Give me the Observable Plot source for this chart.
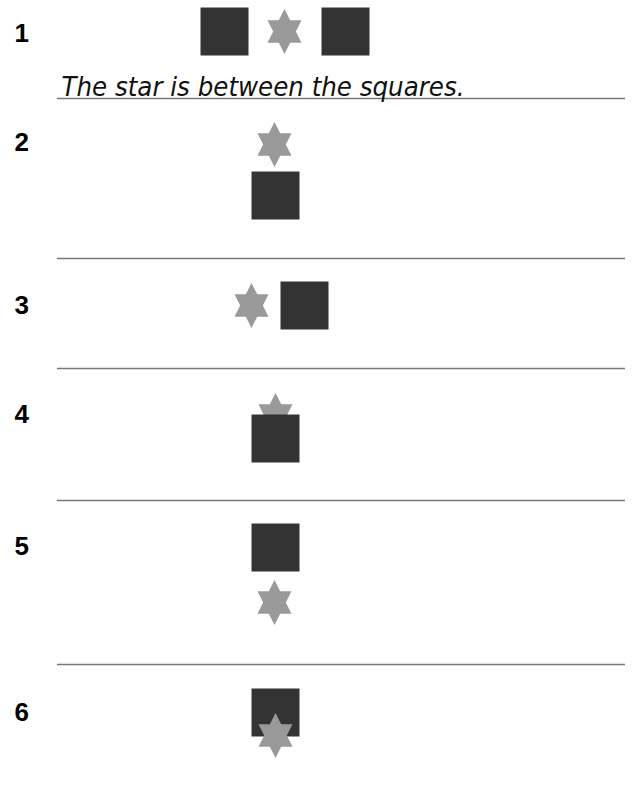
<!DOCTYPE html>
<html>
<head>
<meta charset="utf-8">
<script src="https://cdn.jsdelivr.net/npm/d3@7"></script>
<script src="https://cdn.jsdelivr.net/npm/@observablehq/plot@0.6"></script>
<style>
  html, body { margin: 0; padding: 0; background: #fff; }
</style>
</head>
<body>
<div id="chart"></div>
<script>
// Panel numbers and the vertical centre of each panel label
const panelLabels = ["1", "2", "3", "4", "5", "6"];
const panelLabelY = [33, 142, 305, 414, 546, 712];

// Shapes in each panel (drawing order = stacking order)
const shapePanel = [1, 1, 1, 2, 2, 3, 3, 4, 4, 5, 5, 6, 6];
const shapeKind  = ["block", "hexstar", "block", "hexstar", "block", "hexstar", "block", "hexstar", "block", "block", "hexstar", "block", "hexstar"];
const shapeX     = [224, 284, 345, 274, 275, 251, 304, 275, 275, 275, 274, 275, 275];
const shapeY     = [31, 31, 31, 144, 195, 305, 305, 415, 438, 547, 602, 712, 735];

// Caption under panel 1
const captionText = ["The star is between the squares."];
const captionX = [61];
const captionY = [95];

// Separator rules between panels
const ruleY = [98, 258, 368, 500, 664];
const ruleX1 = 57, ruleX2 = 625;

const shapes = shapeKind.map((k, i) => ({panel: shapePanel[i], kind: k, x: shapeX[i], y: shapeY[i]}));
const labels = panelLabels.map((t, i) => ({text: t, y: panelLabelY[i]}));
const captions = captionText.map((t, i) => ({text: t, x: captionX[i], y: captionY[i]}));

// custom symbols: Plot passes size = pi * r^2
const squareSym = {
  draw(ctx, size) {
    const r = Math.sqrt(size / Math.PI);
    ctx.moveTo(-r, -r);
    ctx.lineTo(r, -r);
    ctx.lineTo(r, r);
    ctx.lineTo(-r, r);
    ctx.closePath();
  }
};
const starSym = {
  draw(ctx, size) {
    const r = Math.sqrt(size / Math.PI) * 22.5 / 24;
    const sx = 17 / 22.5 / Math.cos(Math.PI / 6); // horizontal squeeze
    for (let i = 0; i < 12; i++) {
      const a = -Math.PI / 2 + i * Math.PI / 6;
      const rr = i % 2 === 0 ? r : r / Math.sqrt(3);
      const px = Math.cos(a) * rr * sx, py = Math.sin(a) * rr;
      if (i === 0) ctx.moveTo(px, py); else ctx.lineTo(px, py);
    }
    ctx.closePath();
  }
};

const chart = Plot.plot({
  width: 640,
  height: 795,
  margin: 0,
  x: {domain: [0, 640], range: [0, 640], axis: null},
  y: {domain: [0, 795], range: [0, 795], axis: null},
  symbol: {domain: ["block", "hexstar"], range: [squareSym, starSym]},
  color: {domain: ["block", "hexstar"], range: ["#333333", "#999999"]},
  style: {background: "#fff"},
  marks: [
    Plot.ruleY(ruleY, {y: d => d, x1: ruleX1, x2: ruleX2, stroke: "#777", strokeWidth: 1.3}),
    Plot.dot(shapes, {
      x: "x", y: "y",
      symbol: "kind",
      fill: "kind",
      stroke: "none",
      r: 24
    }),
    Plot.text(labels, {
      x: 14, y: "y", text: "text",
      textAnchor: "start", lineAnchor: "middle",
      fontSize: 26, fontWeight: "bold", fontFamily: "Liberation Sans, Arial, sans-serif",
      fill: "#000"
    }),
    Plot.text(captions, {
      x: "x", y: "y", text: "text",
      textAnchor: "start", lineAnchor: "bottom",
      fontSize: 27, fontStyle: "italic",
      fontFamily: "DejaVu Sans Condensed, DejaVu Sans, sans-serif",
      fill: "#111",
      className: "caption"
    })
  ]
});
document.getElementById("chart").appendChild(chart);
// fit caption width to reference
chart.querySelectorAll(".caption text").forEach(t => {
  t.setAttribute("textLength", 403);
  t.setAttribute("lengthAdjust", "spacingAndGlyphs");
});
</script>
</body>
</html>
